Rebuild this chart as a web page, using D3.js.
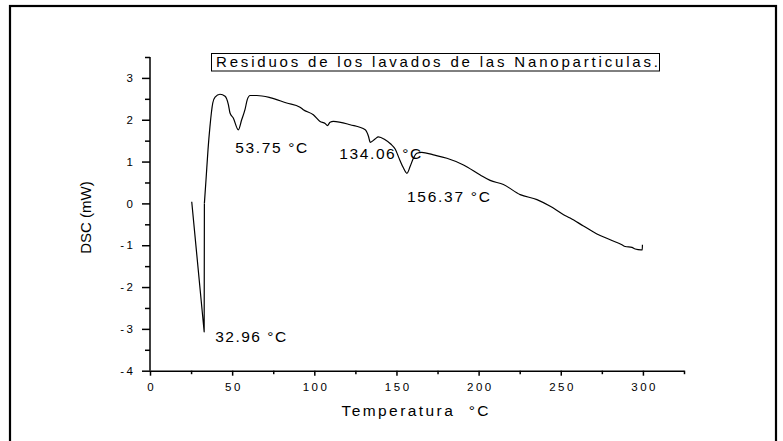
<!DOCTYPE html>
<html>
<head>
<meta charset="utf-8">
<script src="https://cdn.jsdelivr.net/npm/d3@7"></script>
<style>
  html, body { margin: 0; padding: 0; background: #fff; }
  svg { display: block; }
  text { font-family: "Liberation Sans", Arial, sans-serif; fill: #000; }
</style>
</head>
<body>
<svg id="chart" width="783" height="441"></svg>
<script>
// DSC trace: temperature (°C) and heat flow (mW)
const temperature = [
  25.4, 32.96, 33.1, 34.1, 35.3, 36.5, 38.2, 39.6, 42.6, 45.7, 47.7, 48.7, 50.7,
  53.75, 55.8, 57.8, 59.2, 60.9, 65.0, 73.0, 83.2, 91.3, 93.3, 99.4, 103.5,
  106.6, 108.0, 109.6, 111.6, 121.8, 131.0, 133.0, 134.06, 137.0, 139.0, 143.1,
  146.5, 149.2, 152.0, 154.2, 156.37, 158.3, 160.3, 162.4, 165.4, 172.5, 180.7,
  190.8, 201.0, 207.0, 215.1, 225.3, 235.5, 243.6, 251.7, 255.7, 263.8, 272.0,
  280.1, 287.2, 289.2, 293.3, 295.3, 298.8, 299.6, 299.7
];
const dsc = [
  0.04, -3.07, 0.0, 0.57, 1.28, 1.84, 2.40, 2.54, 2.61, 2.56, 2.36, 2.16, 2.04,
  1.76, 2.00, 2.24, 2.48, 2.58, 2.58, 2.53, 2.40, 2.30, 2.24, 2.12, 1.96,
  1.91, 1.86, 1.94, 1.96, 1.88, 1.76, 1.60, 1.46, 1.54, 1.59, 1.52,
  1.42, 1.30, 1.04, 0.85, 0.72, 0.88, 1.08, 1.20, 1.22, 1.16, 1.08,
  0.92, 0.68, 0.55, 0.45, 0.21, 0.09, -0.07, -0.27, -0.35, -0.54, -0.73,
  -0.87, -0.99, -1.03, -1.05, -1.09, -1.11, -1.11, -0.99
];

// Peak annotations
const peakTemperatures = [32.96, 53.75, 134.06, 156.37];
const peakLabels = ["32.96 °C", "53.75 °C", "134.06 °C", "156.37 °C"];

// Axis ticks
const xMajorTicks = [0, 50, 100, 150, 200, 250, 300];
const xMinorTicks = [25, 75, 125, 175, 225, 275, 325];
const yMajorTicks = [-4, -3, -2, -1, 0, 1, 2, 3];
const yMinorTicks = [-3.5, -2.5, -1.5, -0.5, 0.5, 1.5, 2.5, 3.5];

const chartTitle = "Residuos de los lavados de las Nanoparticulas.";
const xTitle = "Temperatura  °C";
const yTitle = "DSC (mW)";

const svg = d3.select("#chart");

// outer frame
svg.append("rect")
  .attr("x", 10).attr("y", 6)
  .attr("width", 766).attr("height", 460)
  .attr("fill", "none").attr("stroke", "#000").attr("stroke-width", 2.2);

const x = d3.scaleLinear().domain([0, 325]).range([150, 684]);
const y = d3.scaleLinear().domain([-4, 3.5]).range([370.7, 57]);

const tickFont = 11.5, tickSpacing = 2.5;
const plainNumber = d => String(d);   // hyphen-minus, as on the printed plot

// x axis: major + minor ticks
const gx = svg.append("g").attr("transform", `translate(0,${y(-4)})`);
gx.call(d3.axisBottom(x).tickValues(xMinorTicks).tickSize(3.5).tickSizeOuter(0).tickFormat(""));
const gxMaj = svg.append("g").attr("transform", `translate(0,${y(-4)})`);
gxMaj.call(d3.axisBottom(x).tickValues(xMajorTicks).tickSize(5).tickSizeOuter(0).tickFormat(plainNumber));
gxMaj.select(".domain").remove();
gxMaj.selectAll("text")
  .attr("y", 20.8).attr("dy", null)
  .attr("dx", tickSpacing / 2)
  .attr("font-size", tickFont)
  .style("letter-spacing", tickSpacing + "px")
  .attr("font-family", null);

// y axis: major + minor ticks
const gy = svg.append("g").attr("transform", `translate(${x(0)},0)`);
gy.call(d3.axisLeft(y).tickValues(yMinorTicks).tickSize(5).tickSizeOuter(0).tickFormat(""));
gy.select(".domain").attr("d", `M0,${y(-4)}V${y(3.5)}`);
const gyMaj = svg.append("g").attr("transform", `translate(${x(0)},0)`);
gyMaj.call(d3.axisLeft(y).tickValues(yMajorTicks).tickSize(8).tickPadding(6.5).tickSizeOuter(0).tickFormat(plainNumber));
gyMaj.select(".domain").remove();
gyMaj.selectAll("text")
  .attr("font-size", tickFont)
  .style("letter-spacing", tickSpacing + "px")
  .attr("font-family", null);

svg.selectAll(".domain, .tick line")
  .attr("stroke", "#000").attr("stroke-width", 1.5);

// DSC curve: the sharp initial plunge is drawn with straight segments,
// the rest of the trace is smoothed
const px = i => x(temperature[i]);
const py = i => y(dsc[i]);
const straight = d3.line().x(px).y(py);
const smooth = d3.line().x(px).y(py).curve(d3.curveMonotoneX);
const plungeEnd = 2;
const curve = svg.append("g")
  .attr("fill", "none")
  .attr("stroke", "#000")
  .attr("stroke-width", 1.2)
  .attr("stroke-linejoin", "round");
curve.append("path").attr("d", straight(d3.range(0, plungeEnd + 1)));
curve.append("path").attr("d", smooth(d3.range(plungeEnd, temperature.length)));

// peak labels, placed relative to each peak point
const labelOffsets = [[11, 10.5], [-3, 23], [-31, 17], [0, 28.5]];
const labelWidths = [71, 72, 82, 83];
peakTemperatures.forEach((t, k) => {
  const idx = temperature.indexOf(t);
  svg.append("text")
    .attr("x", x(t) + labelOffsets[k][0])
    .attr("y", y(dsc[idx]) + labelOffsets[k][1])
    .attr("font-size", 15.5)
    .attr("textLength", labelWidths[k])
    .attr("lengthAdjust", "spacing")
    .text(peakLabels[k]);
});

// title box
svg.append("rect")
  .attr("x", 211.5).attr("y", 53.5)
  .attr("width", 448).attr("height", 17.5)
  .attr("fill", "none").attr("stroke", "#000").attr("stroke-width", 1);
svg.append("text")
  .attr("x", 216).attr("y", 67.2)
  .attr("font-size", 15)
  .attr("textLength", 442)
  .attr("lengthAdjust", "spacing")
  .text(chartTitle);

// axis titles
svg.append("text")
  .attr("x", 341.5).attr("y", 416)
  .attr("font-size", 15.5)
  .attr("textLength", 147)
  .attr("lengthAdjust", "spacing")
  .style("white-space", "pre")
  .text(xTitle);

svg.append("text")
  .attr("transform", "translate(91,217.5) rotate(-90)")
  .attr("text-anchor", "middle")
  .attr("font-size", 15)
  .text(yTitle);
</script>
</body>
</html>
